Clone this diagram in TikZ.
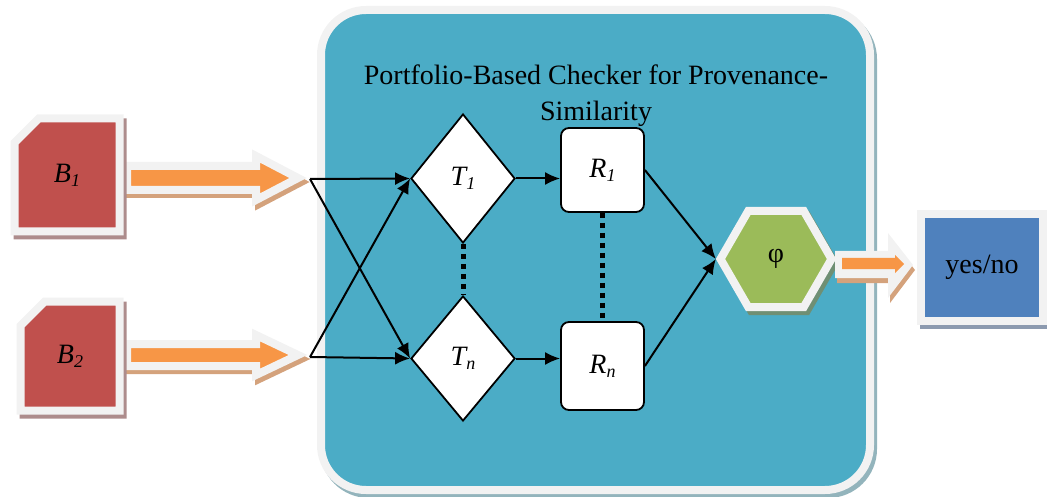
\documentclass[tikz,border=0pt]{standalone}
\usepackage{fontspec}
\setmainfont{Liberation Serif}
\usetikzlibrary{arrows.meta,shapes.geometric,shapes.misc}

\definecolor{panelblue}{HTML}{4BACC6}
\definecolor{blockred}{HTML}{C0504D}
\definecolor{pipeorange}{HTML}{F79646}
\definecolor{resultgreen}{HTML}{9BBB59}
\definecolor{answerblue}{HTML}{4F81BD}
\definecolor{rimwhite}{HTML}{F2F2F2}
\definecolor{panelshade}{HTML}{93B4BC}
\definecolor{redshade}{HTML}{AD8C8C}
\definecolor{orangeshade}{HTML}{D4A27C}
\definecolor{greenshade}{HTML}{6F8F74}
\definecolor{blueshade}{HTML}{8C9AAF}

\newcommand{\lowidx}[1]{\raisebox{-4pt}{\fontsize{18}{18}\selectfont #1}}

\tikzset{
  rimmed/.style 2 args={preaction={draw=#2, fill=#2, line width=8pt,
      transform canvas={shift={(3pt,-4pt)}}},
    draw=rimwhite, fill=#1, line width=8pt, line join=miter},
  shaded/.style={preaction={fill=#1, transform canvas={shift={(2pt,-5pt)}}}},
  testbox/.style={diamond, draw, fill=white, line width=1.8pt, inner sep=0pt,
    minimum width=104pt},
  resbox/.style={rectangle, draw, fill=white, line width=1.8pt, inner sep=0pt,
    rounded corners=8pt, minimum width=83pt},
  link/.style={-{Latex[length=15pt,width=13pt]}, line width=2pt},
  dots/.style={line width=5pt, dash pattern=on 5pt off 5pt}
}

\begin{document}
\begin{tikzpicture}[x=1pt, y=-1pt, every node/.style={font=\fontsize{28}{36}\selectfont}]
  \useasboundingbox (0,0) rectangle (1047,497);

  \path[rimmed={panelblue}{panelshade}, rounded corners=45pt] (321,10) rectangle (870,490);
  \node[align=center] (title) at (596,96) {Portfolio-Based Checker for Provenance-\\Similarity};

  \path[rimmed={pipeorange}{orangeshade}] (127,166) -- (256,166) -- (256,156) -- (298,178)
    -- (256,200) -- (256,190) -- (127,190) -- cycle;
  \path[rimmed={pipeorange}{orangeshade}] (127,344) -- (256,344) -- (256,335) -- (298,355)
    -- (256,375) -- (256,366) -- (127,366) -- cycle;

  \node[rimmed={blockred}{redshade}, chamfered rectangle, chamfered rectangle corners=north west,
    chamfered rectangle xsep=17pt, chamfered rectangle ysep=17pt, inner sep=0pt,
    minimum width=105pt, minimum height=113pt] (B1) at (67,175) {\raisebox{-8pt}{\itshape B\lowidx{1}}};
  \node[rimmed={blockred}{redshade}, chamfered rectangle, chamfered rectangle corners=north west,
    chamfered rectangle xsep=17pt, chamfered rectangle ysep=17pt, inner sep=0pt,
    minimum width=99pt, minimum height=109pt] (B2) at (70,356) {\raisebox{-13pt}{\itshape B\lowidx{2}}};

  \coordinate (j1) at (310,179);
  \coordinate (j2) at (310,357);

  \node[testbox, minimum height=129pt] (T1) at (463,178.5) {\raisebox{-5pt}{\itshape T\lowidx{1}}};
  \node[testbox, minimum height=125pt] (Tn) at (463,358.5) {\raisebox{-5pt}{\itshape T\lowidx{n}}};
  \node[resbox, minimum height=84pt] (R1) at (602.5,170) {\raisebox{-4pt}{\itshape R\lowidx{1}}};
  \node[resbox, minimum height=88pt] (Rn) at (602.5,366) {\raisebox{-4pt}{\itshape R\lowidx{n}}};

  \draw[link] (j1) -- (T1.west);
  \draw[link] (j1) -- (Tn.west);
  \draw[link] (j2) -- (T1.west);
  \draw[link] (j2) -- (Tn.west);
  \draw[link] (T1.east) -- (T1.east -| R1.west);
  \draw[link] (Tn.east) -- (Tn.east -| Rn.west);
  \draw[dots] (T1.south) -- (Tn.north);
  \draw[dots] (R1.south) -- (Rn.north);

  \node[rimmed={resultgreen}{greenshade}, regular polygon, regular polygon sides=6,
    minimum size=111pt, inner sep=0pt] (phi) at (776,259) {\raisebox{-10pt}{φ}};
  \draw[link] (R1.east) -- (phi.west);
  \draw[link] (Rn.east) -- (phi.west);

  \path[shaded=orangeshade, fill=rimwhite] (835,251) -- (888,251) -- (888,233) -- (913,265)
    -- (888,298) -- (888,278) -- (835,278) -- cycle;
  \fill[pipeorange] (842,258) -- (895,258) -- (895,255) -- (904,264) -- (895,273)
    -- (895,269) -- (842,269) -- cycle;

  \node[rimmed={answerblue}{blueshade}, rectangle, inner sep=0pt,
    minimum width=122pt, minimum height=106pt] (yes) at (982,267.5) {yes/no};
\end{tikzpicture}
\end{document}
